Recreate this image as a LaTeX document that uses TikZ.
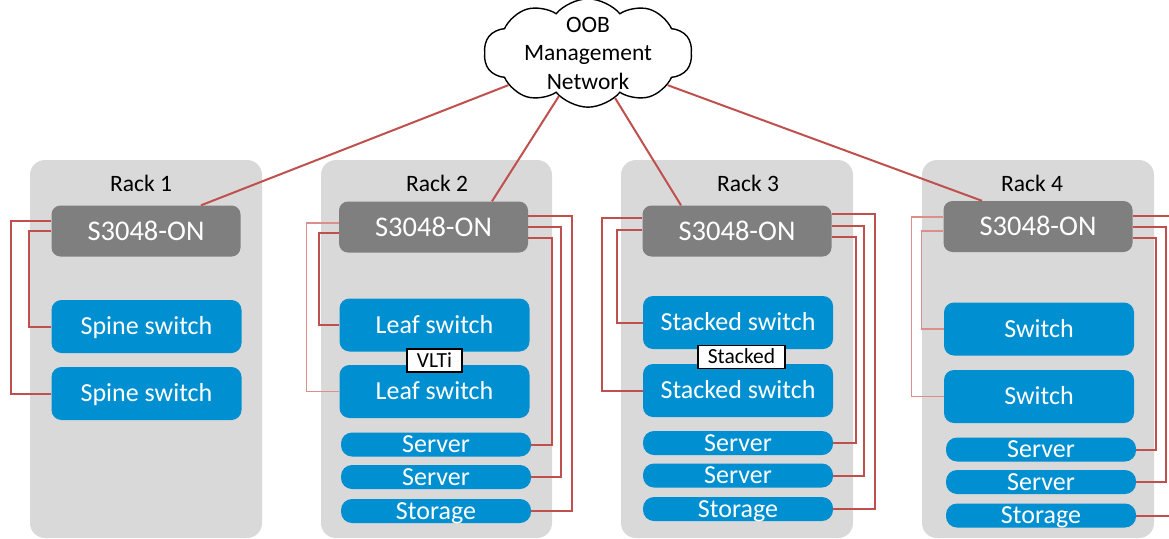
\documentclass[tikz,border=0pt]{standalone}
\usepackage{fontspec}
\setmainfont{Carlito}
\usetikzlibrary{shapes.symbols}
\definecolor{rackgray}{HTML}{D9D9D9}
\definecolor{torgray}{HTML}{7F7F7F}
\definecolor{devblue}{HTML}{008FD0}
\definecolor{linkred}{HTML}{C0504D}
\definecolor{lightred}{HTML}{DA8F8C}

\begin{document}
\begin{tikzpicture}[x=1pt,y=-1pt,
  rackbg/.style={fill=rackgray,rounded corners=15pt},
  racklbl/.style={font=\fontsize{23.5}{26}\selectfont,inner sep=0pt,text height=14.9pt,text depth=0pt},
  tor/.style={fill=torgray,rounded corners=9pt,text=white,font=\fontsize{28.5}{30}\selectfont,minimum width=189pt,minimum height=51pt,inner sep=0pt,text height=18pt,text depth=0pt},
  dev/.style={fill=devblue,rounded corners=10pt,text=white,font=\fontsize{26}{28}\selectfont,minimum width=190pt,minimum height=53pt,inner sep=0pt,text height=16.4pt,text depth=0pt},
  host/.style={dev,rounded corners=11pt,minimum height=24pt},
  tag/.style={draw=black,fill=white,line width=1.5pt,font=\fontsize{21.5}{23}\selectfont,minimum height=23pt,inner sep=0pt,text height=13.6pt,text depth=0pt},
  mgmtcloud/.style={cloud,cloud puffs=10,cloud puff arc=100,cloud ignores aspect,draw=black,line width=1.4pt,fill=white,align=center,font=\fontsize{23.5}{28.5}\selectfont,inner xsep=9pt,inner ysep=-7pt},
  link/.style={linkred,line width=2pt},
  weaklink/.style={lightred,line width=1.2pt}]
\useasboundingbox (0,0) rectangle (1169,538);

% racks
\fill[rackbg] (30,160) rectangle (262,538);
\fill[rackbg] (321,160) rectangle (552,538);
\fill[rackbg] (621,160) rectangle (853,538);
\fill[rackbg] (922,160) rectangle (1154,538);
\node[racklbl] (r1) at (141,184.5) {Rack 1};
\node[racklbl] (r2) at (437,184.5) {Rack 2};
\node[racklbl] (r3) at (748,184.5) {Rack 3};
\node[racklbl] (r4) at (1032,184.5) {Rack 4};

% oob cloud
\node[mgmtcloud] (oob) at (588,53) {OOB\\Management\\Network};

% rack 1
\node[tor] (tor1) at (146,231) {S3048-ON};
\node[dev] (sp1) at (146.5,326.5) {Spine switch};
\node[dev] (sp2) at (146.5,393.5) {Spine switch};

% rack 2
\node[tor] (tor2) at (433.5,227) {S3048-ON};
\node[dev] (lf1) at (434.5,325) {Leaf switch};
\node[dev] (lf2) at (434.5,391.5) {Leaf switch};
\node[tag,minimum width=55pt] (vlti) at (434.5,360.5) {VLTi};
\node[host] (srv21) at (436,444.5) {Server};
\node[host] (srv22) at (436,477) {Server};
\node[host] (sto2) at (436,511) {Storage};

% rack 3
\node[tor] (tor3) at (737,231) {S3048-ON};
\node[dev] (sk1) at (738,322.5) {Stacked switch};
\node[dev] (sk2) at (738,390.5) {Stacked switch};
\node[tag,minimum width=87pt] (stk) at (741.5,357) {Stacked};
\node[host] (srv31) at (738,443) {Server};
\node[host] (srv32) at (738,475.5) {Server};
\node[host] (sto3) at (738,509) {Storage};

% rack 4
\node[tor] (tor4) at (1038,226.5) {S3048-ON};
\node[dev] (sw41) at (1039,329) {Switch};
\node[dev] (sw42) at (1039,396.5) {Switch};
\node[host] (srv41) at (1041,449.5) {Server};
\node[host] (srv42) at (1041,482) {Server};
\node[host] (sto4) at (1041,515.5) {Storage};

% uplinks to the cloud
\draw[link] (oob.202) -- ([xshift=55pt]tor1.north);
\draw[link] (oob.236) -- ([xshift=58.5pt]tor2.north);
\draw[link] (oob.301) -- ([xshift=-56pt]tor3.north);
\draw[link] (oob.338) -- ([xshift=-56pt]tor4.north);

% rack 1 links
\draw[link] (tor1.west) ++(0,-10) -- ++(-40,0) |- (sp2.west);
\draw[link] (tor1.west) -- ++(-22,0) |- (sp1.west);

% rack 2 links
\draw[weaklink] (tor2.west) ++(0,-4) -- ++(-32,0) |- (lf2.west);
\draw[link] (tor2.west) ++(0,6) -- ++(-20,0) |- (lf1.west);
\draw[link] (tor2.east) ++(0,-11) -- ++(44,0) |- (sto2.east);
\draw[link] (tor2.east) -- ++(33,0) |- (srv22.east);
\draw[link] (tor2.east) ++(0,11) -- ++(24,0) |- (srv21.east);

% rack 3 links
\draw[link] (tor3.west) ++(0,-13) -- ++(-40,0) |- (sk2.west);
\draw[link] (tor3.west) ++(0,-1) -- ++(-25,0) |- (sk1.west);
\draw[link] (tor3.east) ++(0,-17) -- ++(43,0) |- (sto3.east);
\draw[link] (tor3.east) ++(0,-5) -- ++(32,0) |- (srv32.east);
\draw[link] (tor3.east) ++(0,6) -- ++(24,0) |- (srv31.east);

% rack 4 links
\draw[weaklink] (tor4.west) ++(0,-9.5) -- ++(-32,0) |- (sw42.west);
\draw[weaklink] (tor4.west) ++(0,4.5) -- ++(-22,0) |- (sw41.west);
\draw[link] (tor4.east) ++(0,-10.5) -- ++(40,0);
\draw[link] (tor4.east) ++(0,0.5) -- ++(33,0) |- (srv42.east);
\draw[link] (tor4.east) ++(0,11.5) -- ++(23,0) |- (srv41.east);
\draw[link] (sto4.east) -- ++(35,0);

\end{tikzpicture}
\end{document}
